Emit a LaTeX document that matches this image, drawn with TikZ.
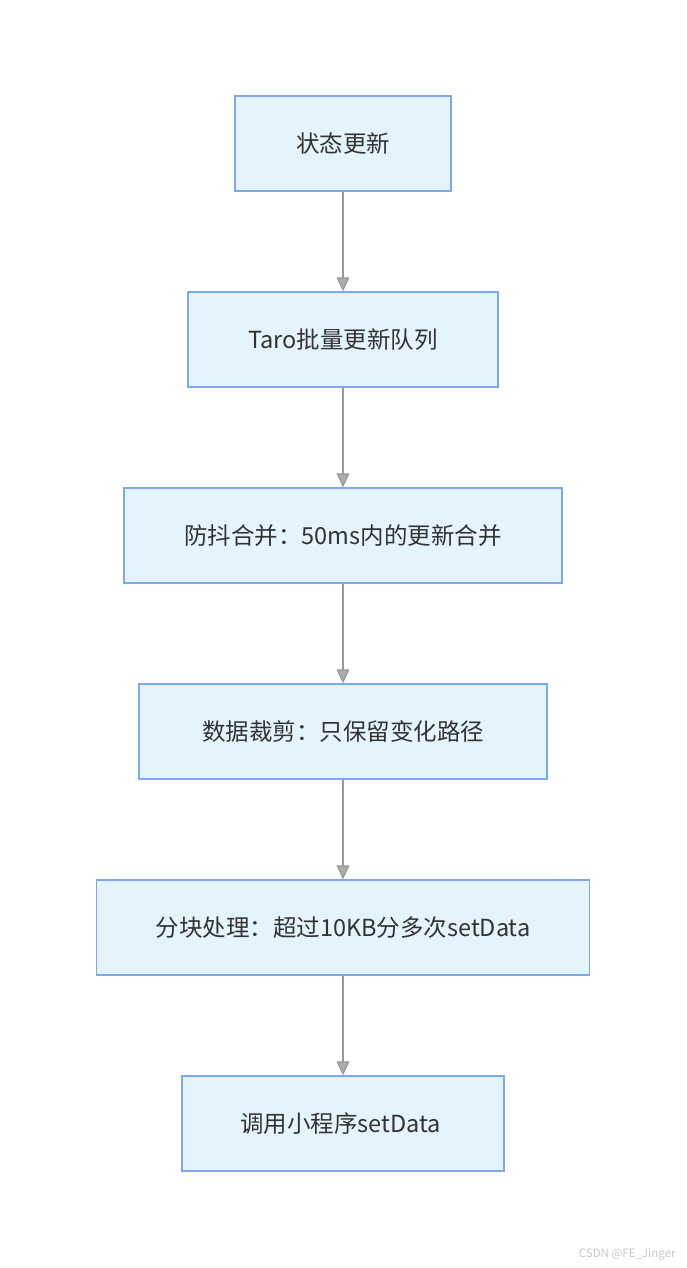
\documentclass[tikz,border=0pt]{standalone}
\usepackage{fontspec}
\setmainfont{Noto Sans CJK SC}
\usepackage{xcolor}
\usepackage{tikz}
\usetikzlibrary{arrows.meta}
\definecolor{boxfill}{HTML}{E4F4FD}
\definecolor{boxline}{HTML}{7BA7F3}
\definecolor{ink}{HTML}{333333}
\definecolor{edge}{HTML}{999999}
\definecolor{mark}{HTML}{C8C8C8}

\begin{document}
\begin{tikzpicture}[x=1pt, y=-1pt,
    font=\fontsize{23.5}{27}\selectfont\color{ink},
    stage/.style={draw=boxline, line width=1.4pt, fill=boxfill, minimum height=95pt,
      inner sep=0pt, align=center},
    flow/.style={draw=edge, line width=1.2pt, -{Triangle[width=13pt, length=14pt, fill=edge!80]}}]
  \useasboundingbox (0,0) rectangle (686,1268);
  \def\gap{196}
  \foreach \w/\txt [count=\i from 0] in {
      216/状态更新,
      310/Taro批量更新队列,
      438/防抖合并：50ms内的更新合并,
      408/数据裁剪：只保留变化路径,
      493/分块处理：超过10KB分多次setData,
      322/调用小程序setData
  } {
    \pgfmathsetmacro{\yy}{143.5+\i*\gap}
    \node[stage, minimum width=\w pt] (s\i) at (343, \yy) {\txt};
  }
  \foreach \i [evaluate=\i as \j using int(\i+1)] in {0,...,4} {
    \draw[flow] (s\i) -- (s\j);
  }
  \node[anchor=east, font=\fontsize{11.5}{13}\selectfont\color{mark}] (wm) at (679, 1254) {CSDN @FE\_Jinger};
\end{tikzpicture}
\end{document}
